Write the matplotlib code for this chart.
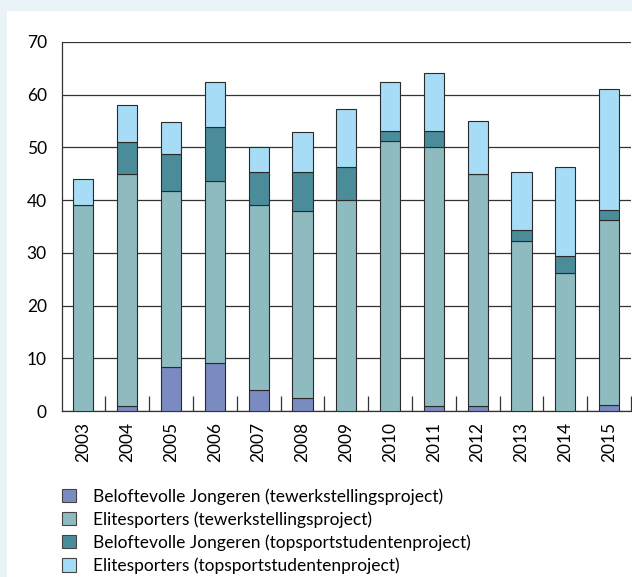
import numpy as np
import matplotlib.pyplot as plt
from matplotlib.patches import Rectangle, Patch

plt.rcParams['font.family'] = ['Lato', 'DejaVu Sans']

# data
jaren = ['2003', '2004', '2005', '2006', '2007', '2008', '2009',
         '2010', '2011', '2012', '2013', '2014', '2015']
bj_tew = [0, 1, 8.4, 9.2, 4, 2.5, 0, 0, 1, 1, 0, 0, 1.2]
es_tew = [39, 44, 33.4, 34.5, 35, 35.4, 40, 51.2, 49, 44, 32.2, 26.2, 35.1]
bj_top = [0, 6, 7, 10.2, 6.3, 7.4, 6.2, 1.9, 3.1, 0, 2.1, 3.15, 1.8]
es_top = [5, 7, 6, 8.5, 4.7, 7.6, 11, 9.3, 11.1, 10, 11, 16.85, 23]

reeksen = [
    ('Beloftevolle Jongeren (tewerkstellingsproject)', bj_tew, '#7b8bc2'),
    ('Elitesporters (tewerkstellingsproject)', es_tew, '#8dbbbf'),
    ('Beloftevolle Jongeren (topsportstudentenproject)', bj_top, '#4a8c9a'),
    ('Elitesporters (topsportstudentenproject)', es_top, '#a6dcf5'),
]

fig = plt.figure(figsize=(6.32, 5.77), dpi=100)
fig.patch.set_facecolor('#eaf3f7')
# wit paneel
fig.patches.append(Rectangle((7 / 632, 0), 1, 1 - 11 / 577, transform=fig.transFigure,
                             facecolor='white', edgecolor='none', zorder=-5))

ax = fig.add_axes([61.5 / 632, 166 / 577, 569.5 / 632, 369 / 577])
ax.set_facecolor('none')

x = np.arange(len(jaren))
onder = np.zeros(len(jaren))
handles = []
for naam, waarden, kleur in reeksen:
    w = np.array(waarden, dtype=float)
    ax.bar(x, w, 0.46, bottom=onder, color=kleur, edgecolor='#2a2a2a',
           linewidth=0.8, zorder=3)
    onder += w
    handles.append(Patch(facecolor=kleur, edgecolor='#444444', linewidth=0.8, label=naam))

ax.set_xlim(-0.5, len(jaren) - 0.5)
ax.set_ylim(0, 70)
ax.set_yticks(range(0, 71, 10))
ax.yaxis.grid(True, color='#333333', linewidth=0.9, zorder=1)
ax.set_axisbelow(True)
for s in ['top', 'right']:
    ax.spines[s].set_visible(False)
ax.spines['left'].set_color('#333333')
ax.spines['bottom'].set_color('#333333')
ax.spines['left'].set_linewidth(0.9)
ax.spines['bottom'].set_linewidth(0.9)

ax.set_xticks(x)
ax.set_xticklabels(jaren, rotation=90, fontsize=12.5)
ax.set_xticks(np.arange(0.5, len(jaren), 1), minor=True)
ax.tick_params(axis='x', which='major', length=0, pad=8)
ax.tick_params(axis='x', which='minor', direction='in', length=11, width=0.9, color='#333333')
ax.tick_params(axis='y', length=0, labelsize=12.5, pad=10.5)

fig.legend(handles=handles, loc='upper left', bbox_to_anchor=(55 / 632, 1 - 481 / 577),
           frameon=False, fontsize=12.5, handlelength=0.8, handleheight=0.8,
           handletextpad=0.98, labelspacing=0.38, borderaxespad=0)

fig.savefig('out.png', dpi=100, facecolor=fig.get_facecolor())
